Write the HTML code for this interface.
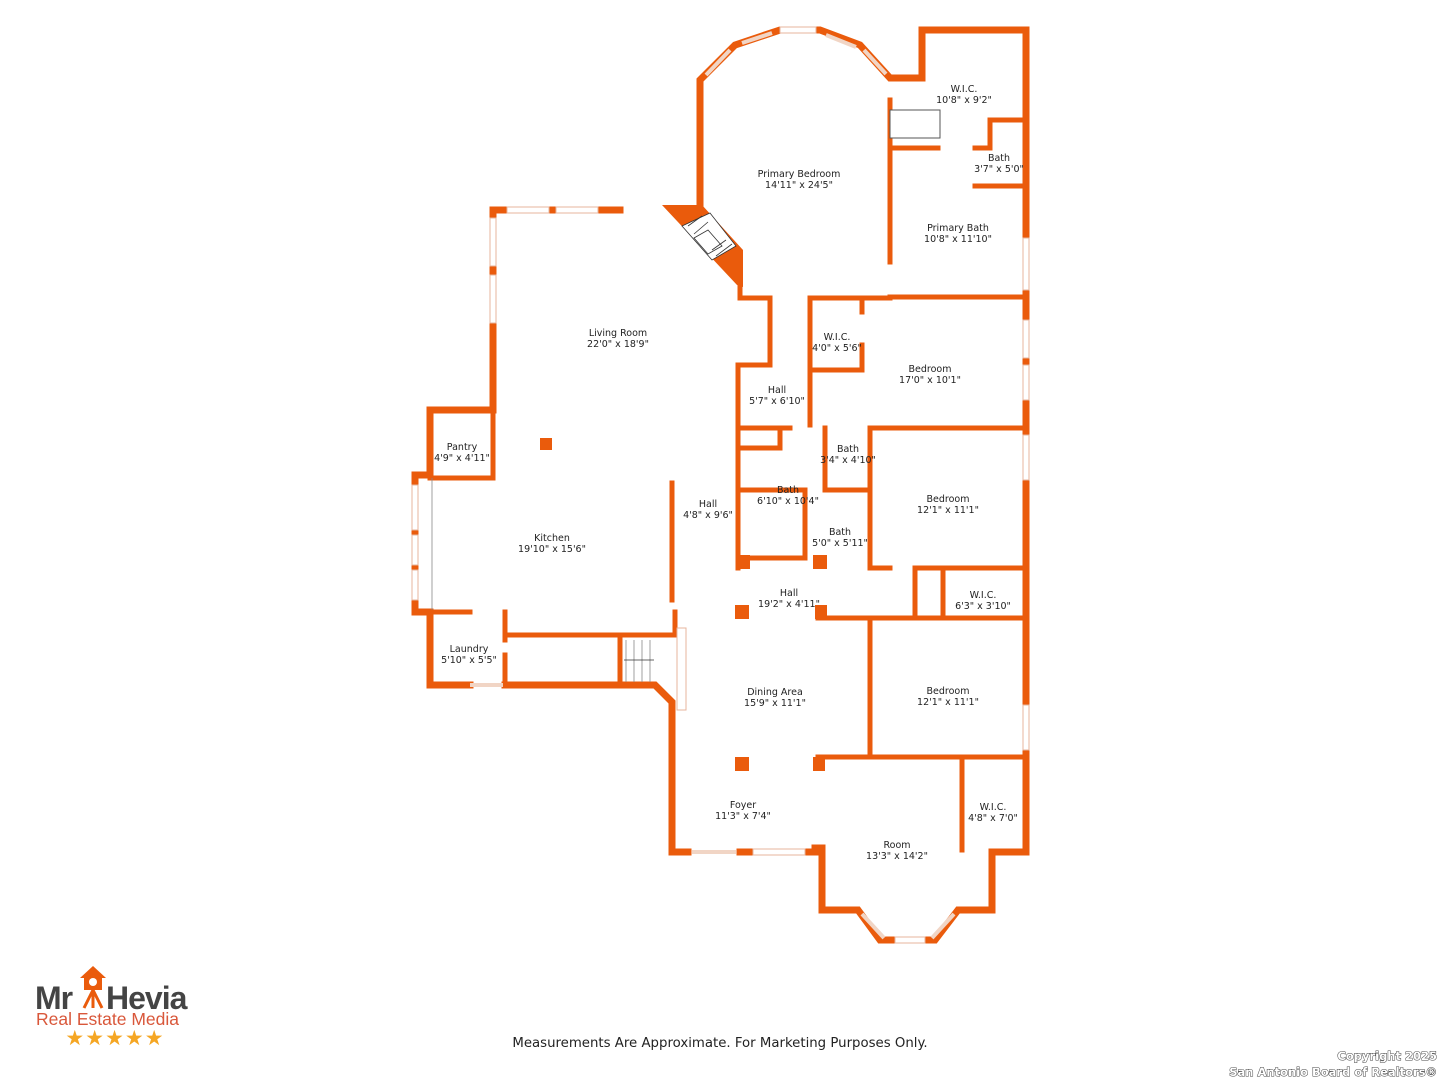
<!DOCTYPE html>
<html><head><meta charset="utf-8"><style>
html,body{margin:0;padding:0;background:#fff;width:1440px;height:1080px;overflow:hidden}
svg{display:block}
.t{font-family:"DejaVu Sans","Liberation Sans",sans-serif;font-size:9.5px;fill:#222;text-anchor:middle}
</style></head><body>
<svg width="1440" height="1080" viewBox="0 0 1440 1080">
<g stroke="#ea5b0c" stroke-width="5" fill="none" stroke-linecap="square" stroke-linejoin="miter">
<polyline stroke-width="7" points="700,208 700,80 735,45 780,30 820,30 860,45 890,78 922,78 922,30 1026,30 1026,852"/>
<polyline stroke-width="7" points="620,210 493,210 493,410 430,410 430,475 415,475 415,612 430,612 430,685 470,685"/>
<polyline stroke-width="7" points="505,685 655,685 672,702 672,852 688,852"/>
<polyline stroke-width="7" points="740,852 815,852"/>
<polyline stroke-width="7" points="815,848 822,848 822,910 858,910 880,940 935,940 958,910 992,910 992,852 1026,852"/>
<polyline points="740,285 740,298 770,298 770,340"/>
<polyline points="770,340 770,365 738,365 738,425"/>
<polyline points="430,478 490,478"/>
<polyline points="493,410 493,478"/>
<polyline points="430,612 470,612"/>
<polyline points="505,612 505,640"/>
<polyline points="505,655 505,685"/>
<polyline points="505,635 672,635"/>
<polyline points="672,483 672,600"/>
<polyline points="675,612 675,635"/>
<polyline points="620,640 620,685"/>
<polyline points="890,100 890,262"/>
<polyline points="890,148 938,148"/>
<polyline points="975,148 990,148 990,120 1024,120"/>
<polyline points="975,186 1024,186"/>
<polyline points="890,297 1026,297"/>
<polyline points="810,298 890,298"/>
<polyline points="810,298 810,425"/>
<polyline points="862,298 862,312"/>
<polyline points="862,345 862,370 810,370"/>
<polyline points="738,428 790,428 "/>
<polyline points="738,448 780,448 780,428"/>
<polyline points="738,425 738,568"/>
<polyline points="740,490 805,490"/>
<polyline points="825,428 825,490 870,490"/>
<polyline points="870,428 1026,428"/>
<polyline points="870,428 870,568"/>
<polyline points="805,490 805,555"/>
<polyline points="738,558 805,558"/>
<polyline points="870,568 890,568"/>
<polyline points="920,568 1026,568"/>
<polyline points="915,568 915,615"/>
<polyline points="943,568 943,618"/>
<polyline points="818,618 1026,618"/>
<polyline points="870,618 870,757"/>
<polyline points="818,757 1026,757"/>
<polyline points="962,757 962,850"/>
</g>
<g fill="#ea5b0c">
<polygon points="662,205 702,205 743,250 743,287 737,285"/>
<rect x="540" y="438" width="12" height="12"/>
<rect x="735" y="605" width="14" height="14"/>
<rect x="815" y="605" width="12" height="14"/>
<rect x="735" y="757" width="14" height="14"/>
<rect x="813" y="757" width="12" height="14"/>
<rect x="736" y="555" width="14" height="14"/>
<rect x="813" y="555" width="14" height="14"/>
</g>
<g stroke="#333" stroke-width="0.8" fill="#fff">
<polygon points="682,226 710,213 736,246 712,260"/>
<polygon points="694,238 708,230 722,246 708,254"/>
<path d="M688,226 L702,216 M694,234 L708,222 M712,250 L726,240 M716,256 L732,244" fill="none"/>
</g>
<g fill="#fff" stroke="#e7b49c" stroke-width="1">
<rect x="507" y="207" width="42" height="6"/>
<rect x="556" y="207" width="42" height="6"/>
<rect x="490" y="218" width="6" height="48"/>
<rect x="490" y="275" width="6" height="48"/>
<rect x="412" y="485" width="6" height="45"/>
<rect x="412" y="535" width="6" height="30"/>
<rect x="412" y="570" width="6" height="30"/>
<rect x="780" y="27" width="36" height="6"/>
<rect x="1023" y="238" width="6" height="52"/>
<rect x="1023" y="320" width="6" height="38"/>
<rect x="1023" y="365" width="6" height="35"/>
<rect x="1023" y="435" width="6" height="45"/>
<rect x="1023" y="705" width="6" height="45"/>
<rect x="753" y="849" width="52" height="6"/>
<rect x="895" y="937" width="30" height="6"/>
<rect x="677" y="628" width="9" height="82"/>
<rect x="890" y="110" width="50" height="28" stroke="#555"/>
</g>
<g stroke="#f1d5c5" stroke-width="4">
<line x1="742" y1="43" x2="772" y2="33"/>
<line x1="826" y1="35" x2="856" y2="47"/>
<line x1="706" y1="75" x2="730" y2="50"/>
<line x1="864" y1="50" x2="886" y2="74"/>
<line x1="862" y1="914" x2="884" y2="938"/>
<line x1="932" y1="938" x2="954" y2="914"/>
<line x1="692" y1="852" x2="736" y2="852"/>
<line x1="470" y1="685" x2="503" y2="685"/>
</g>
<g stroke="#888" stroke-width="0.8"><line x1="432" y1="478" x2="432" y2="610"/>
<line x1="626" y1="640" x2="626" y2="682"/><line x1="634" y1="640" x2="634" y2="682"/><line x1="642" y1="640" x2="642" y2="682"/><line x1="650" y1="640" x2="650" y2="682"/>
<line x1="624" y1="660" x2="654" y2="660" stroke="#333"/></g>
<text class="t" x="799" y="177">Primary Bedroom</text><text class="t" x="799" y="188">14'11" x 24'5"</text>
<text class="t" x="964" y="92">W.I.C.</text><text class="t" x="964" y="103">10'8" x 9'2"</text>
<text class="t" x="999" y="161">Bath</text><text class="t" x="999" y="172">3'7" x 5'0"</text>
<text class="t" x="958" y="231">Primary Bath</text><text class="t" x="958" y="242">10'8" x 11'10"</text>
<text class="t" x="618" y="336">Living Room</text><text class="t" x="618" y="347">22'0" x 18'9"</text>
<text class="t" x="837" y="340">W.I.C.</text><text class="t" x="837" y="351">4'0" x 5'6"</text>
<text class="t" x="930" y="372">Bedroom</text><text class="t" x="930" y="383">17'0" x 10'1"</text>
<text class="t" x="777" y="393">Hall</text><text class="t" x="777" y="404">5'7" x 6'10"</text>
<text class="t" x="462" y="450">Pantry</text><text class="t" x="462" y="461">4'9" x 4'11"</text>
<text class="t" x="848" y="452">Bath</text><text class="t" x="848" y="463">3'4" x 4'10"</text>
<text class="t" x="788" y="493">Bath</text><text class="t" x="788" y="504">6'10" x 10'4"</text>
<text class="t" x="948" y="502">Bedroom</text><text class="t" x="948" y="513">12'1" x 11'1"</text>
<text class="t" x="708" y="507">Hall</text><text class="t" x="708" y="518">4'8" x 9'6"</text>
<text class="t" x="840" y="535">Bath</text><text class="t" x="840" y="546">5'0" x 5'11"</text>
<text class="t" x="552" y="541">Kitchen</text><text class="t" x="552" y="552">19'10" x 15'6"</text>
<text class="t" x="789" y="596">Hall</text><text class="t" x="789" y="607">19'2" x 4'11"</text>
<text class="t" x="983" y="598">W.I.C.</text><text class="t" x="983" y="609">6'3" x 3'10"</text>
<text class="t" x="469" y="652">Laundry</text><text class="t" x="469" y="663">5'10" x 5'5"</text>
<text class="t" x="775" y="695">Dining Area</text><text class="t" x="775" y="706">15'9" x 11'1"</text>
<text class="t" x="948" y="694">Bedroom</text><text class="t" x="948" y="705">12'1" x 11'1"</text>
<text class="t" x="743" y="808">Foyer</text><text class="t" x="743" y="819">11'3" x 7'4"</text>
<text class="t" x="993" y="810">W.I.C.</text><text class="t" x="993" y="821">4'8" x 7'0"</text>
<text class="t" x="897" y="848">Room</text><text class="t" x="897" y="859">13'3" x 14'2"</text>
<text x="720" y="1047" style="font-family:'DejaVu Sans',sans-serif;font-size:13.3px;fill:#222;text-anchor:middle">Measurements Are Approximate. For Marketing Purposes Only.</text>
<text x="1437" y="1060" style="font-family:'DejaVu Sans',sans-serif;font-weight:bold;font-size:11.5px;fill:#fff;stroke:#444;stroke-width:1;paint-order:stroke;text-anchor:end">Copyright 2025</text>
<text x="1437" y="1076" style="font-family:'DejaVu Sans',sans-serif;font-weight:bold;font-size:11.5px;fill:#fff;stroke:#444;stroke-width:1;paint-order:stroke;text-anchor:end">San Antonio Board of Realtors®</text>
<polygon points="80,978 93,966 106,978 102,978 102,990 84,990 84,978" fill="#ea5b0c"/>
<circle cx="93" cy="982" r="4" fill="#fff"/>
<text x="35" y="1009" style="font-family:'Liberation Sans',sans-serif;font-weight:bold;font-size:32px;fill:#444;letter-spacing:-1px">Mr</text>
<text x="106" y="1009" style="font-family:'Liberation Sans',sans-serif;font-weight:bold;font-size:32px;fill:#444;letter-spacing:-1px">Hevia</text>
<path d="M93,990 L84,1008 M93,990 L93,1008 M93,990 L102,1008" stroke="#ea5b0c" stroke-width="3"/>
<text x="36" y="1025" style="font-family:'Liberation Sans',sans-serif;font-size:17.5px;fill:#d9573a">Real Estate Media</text>
<text x="115" y="1045" style="font-family:'DejaVu Sans',sans-serif;font-size:21px;fill:#f5a623;text-anchor:middle;letter-spacing:1px">★★★★★</text>
</svg>
</body></html>
